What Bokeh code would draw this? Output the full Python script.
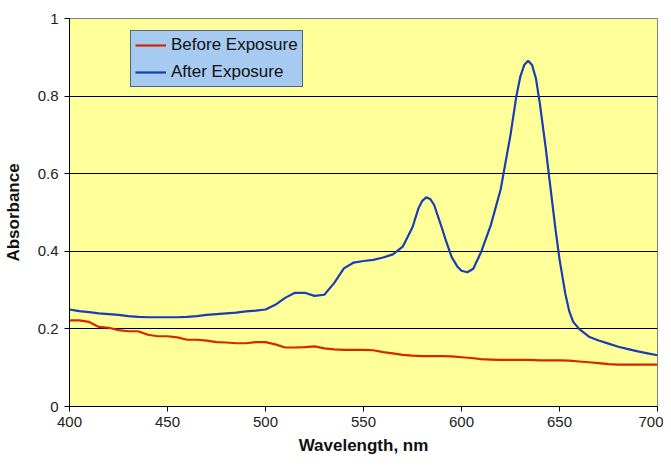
from bokeh.plotting import figure
from bokeh.embed import file_html
from bokeh.resources import INLINE
from bokeh.models import FixedTicker, CustomJSTickFormatter, Range1d

# Wavelength (nm)
wl_before = [400, 405, 410, 415, 420, 425, 430, 435, 440, 445, 450, 455, 460, 465, 470,
             475, 480, 485, 490, 495, 500, 505, 510, 515, 520, 525, 530, 535, 540, 545,
             550, 555, 560, 565, 570, 575, 580, 585, 590, 595, 600, 605, 610, 615, 620,
             625, 630, 635, 640, 645, 650, 655, 660, 665, 670, 675, 680, 685, 690, 695, 700]
before = [0.222, 0.222, 0.218, 0.205, 0.203, 0.197, 0.194, 0.194, 0.185, 0.181, 0.181,
          0.178, 0.172, 0.172, 0.170, 0.166, 0.165, 0.163, 0.163, 0.166, 0.166, 0.160,
          0.152, 0.152, 0.153, 0.155, 0.150, 0.147, 0.146, 0.146, 0.146, 0.145, 0.140,
          0.137, 0.133, 0.131, 0.130, 0.130, 0.130, 0.129, 0.127, 0.125, 0.122, 0.121,
          0.120, 0.120, 0.120, 0.120, 0.119, 0.119, 0.119, 0.118, 0.116, 0.114, 0.112,
          0.109, 0.108, 0.108, 0.108, 0.108, 0.108]

wl_after = [400, 405, 410, 415, 420, 425, 430, 435, 440, 445, 450, 455, 460, 465, 470,
            475, 480, 485, 490, 495, 500, 505, 510, 515, 520, 525, 530, 535, 540, 545,
            550, 555, 560, 565, 570, 575, 578, 580, 582, 584, 586, 588, 590, 592, 595,
            598, 600, 603, 606, 610, 615, 620, 625, 628, 630, 632, 634, 636, 638, 640,
            643, 645, 648, 650, 653, 655, 657, 660, 665, 670, 675, 680, 685, 690, 695, 700]
after = [0.250, 0.246, 0.243, 0.240, 0.238, 0.236, 0.233, 0.231, 0.230, 0.230, 0.230,
         0.230, 0.231, 0.233, 0.236, 0.238, 0.240, 0.242, 0.245, 0.247, 0.250, 0.262,
         0.280, 0.293, 0.293, 0.285, 0.288, 0.318, 0.356, 0.371, 0.375, 0.378, 0.384,
         0.392, 0.412, 0.462, 0.510, 0.530, 0.539, 0.535, 0.520, 0.490, 0.460, 0.428,
         0.385, 0.360, 0.350, 0.346, 0.355, 0.398, 0.468, 0.560, 0.700, 0.800, 0.850,
         0.880, 0.891, 0.880, 0.845, 0.780, 0.665, 0.580, 0.455, 0.380, 0.290, 0.245,
         0.218, 0.200, 0.180, 0.170, 0.162, 0.154, 0.148, 0.142, 0.137, 0.132]

x_ticks = [400, 450, 500, 550, 600, 650, 700]
y_ticks = [0, 0.2, 0.4, 0.6, 0.8, 1.0]

FONT = "Liberation Sans"

p = figure(width=663, height=460, output_backend="svg", toolbar_location=None,
           x_range=Range1d(400, 700), y_range=Range1d(0, 1),
           min_border_left=68, min_border_right=6, min_border_top=18, min_border_bottom=54)

p.background_fill_color = "#FFFF99"
p.border_fill_color = "white"
p.outline_line_color = "#808080"
p.outline_line_width = 1

p.line(wl_before, before, line_color="#d42800", line_width=2.2, legend_label="Before Exposure")
p.line(wl_after, after, line_color="#1a3cb4", line_width=2.2, legend_label="After Exposure")

p.xgrid.visible = False
p.ygrid.ticker = FixedTicker(ticks=[0.2, 0.4, 0.6, 0.8])
p.ygrid.grid_line_color = "black"
p.ygrid.grid_line_width = 1

p.xaxis.ticker = FixedTicker(ticks=x_ticks)
p.yaxis.ticker = FixedTicker(ticks=y_ticks)
p.yaxis.formatter = CustomJSTickFormatter(code="return String(Math.round(tick*10)/10);")

for ax in (p.xaxis[0], p.yaxis[0]):
    ax.axis_line_color = "black"
    ax.axis_line_width = 1
    ax.major_tick_line_color = "black"
    ax.major_tick_out = 5
    ax.major_tick_in = 0
    ax.minor_tick_out = 0
    ax.minor_tick_in = 0
    ax.major_label_text_font = FONT
    ax.major_label_text_font_size = "15px"
    ax.major_label_text_color = "#222222"
    ax.axis_label_text_font = FONT
    ax.axis_label_text_font_style = "bold"
    ax.axis_label_text_font_size = "17px"
    ax.axis_label_text_color = "#111111"

p.xaxis.axis_label = "Wavelength, nm"
p.yaxis.axis_label = "Absorbance"
p.xaxis.major_label_standoff = 5
p.xaxis.axis_label_standoff = 6
p.yaxis.major_label_standoff = 6
p.yaxis.axis_label_standoff = 12

lg = p.legend[0]
lg.location = (61, 319)
lg.background_fill_color = "#A6CAF0"
lg.background_fill_alpha = 1
lg.border_line_color = "black"
lg.border_line_width = 1
lg.label_text_font = FONT
lg.label_text_font_size = "17px"
lg.label_text_color = "#111111"
lg.glyph_width = 31
lg.glyph_height = 20
lg.label_height = 20
lg.label_standoff = 5
lg.spacing = 7
lg.padding = 4
lg.margin = 0

open("out.html", "w").write(file_html(p, INLINE))
